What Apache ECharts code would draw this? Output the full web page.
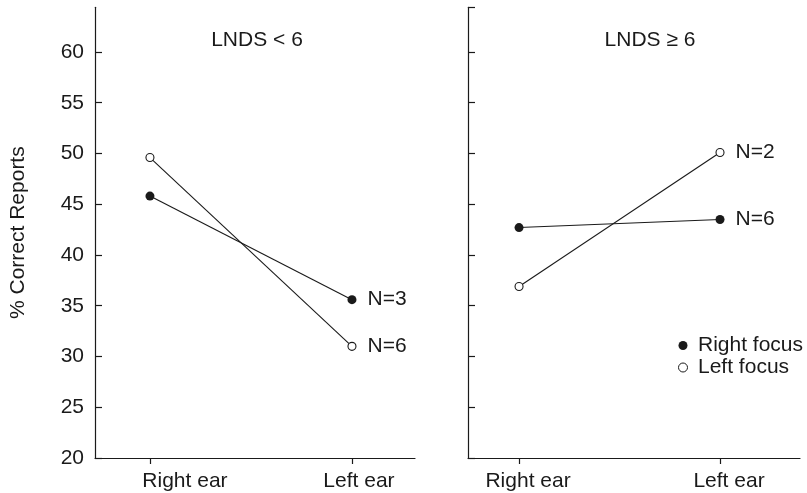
<!DOCTYPE html>
<html><head><meta charset="utf-8">
<script src="https://cdn.jsdelivr.net/npm/echarts@6/dist/echarts.min.js"></script>
<style>html,body{margin:0;padding:0;background:#fff}#c{width:807px;height:493px}</style>
</head><body><div id="c"></div>
<script>
const categories = ['Right ear', 'Left ear'];
const panelTitles = ['LNDS < 6', 'LNDS \u2265 6'];
const yAxisName = '% Correct Reports';
const seriesNames = ['Right focus', 'Left focus'];
// Panel 1: LNDS < 6
const lowRightFocus = [45.8, 35.6];
const lowLeftFocus = [49.6, 31.0];
const lowRightN = 'N=3';
const lowLeftN = 'N=6';
// Panel 2: LNDS >= 6
const highRightFocus = [42.7, 43.5];
const highLeftFocus = [36.9, 50.1];
const highRightN = 'N=6';
const highLeftN = 'N=2';

const FONT = 'Liberation Sans, Arial, sans-serif';
const INK = '#1a1a1a';
const FS = 21;
const pts = arr => arr.map((v, i) => [i, v]);

// label nudges (visual style only): left padding per category label, per panel
const labelPad = [[70, 14], [18, 18]];

function xAxis(gi, min, max) {
  const rich = {};
  categories.forEach((c, i) => { rich['c' + i] = {padding: [0, 0, 0, labelPad[gi][i]], fontSize: FS, fontFamily: FONT, color: INK}; });
  return {
    type: 'value', gridIndex: gi, min: min, max: max,
    axisLine: {show: true, onZero: false, lineStyle: {color: INK, width: 1.2}},
    axisTick: {show: true, length: 6, customValues: [0, 1], lineStyle: {color: INK, width: 1.2}},
    axisLabel: {customValues: [0, 1],
      formatter: v => { const i = Math.round(v); return '{c' + i + '|' + categories[i] + '}'; },
      rich: rich, color: INK, fontFamily: FONT, fontSize: FS, margin: 13},
    splitLine: {show: false}
  };
}
function yAxis(gi, showLabels) {
  return {
    type: 'value', gridIndex: gi, min: 20, max: 64.4, interval: 5,
    name: showLabels ? yAxisName : '', nameLocation: 'middle', nameGap: 66,
    nameTextStyle: {color: INK, fontFamily: FONT, fontSize: FS},
    axisLine: {show: true, onZero: false, lineStyle: {color: INK, width: 1.2}},
    axisTick: {show: true, inside: true, length: 7, lineStyle: {color: INK, width: 1.2}},
    axisLabel: {show: showLabels, color: INK, fontFamily: FONT, fontSize: FS, margin: 11,
      showMaxLabel: false},
    splitLine: {show: false}
  };
}
function lineSeries(gi, name, data, endLabel, filled) {
  return {
    type: 'line', name: name, xAxisIndex: gi, yAxisIndex: gi,
    data: pts(data),
    symbol: 'circle',
    symbolSize: filled ? 9 : 8,
    lineStyle: {color: INK, width: 1.1},
    itemStyle: filled ? {color: INK} : {color: '#fff', borderColor: INK, borderWidth: 1.1},
    label: {show: true, position: 'right', distance: 11, color: INK, fontFamily: FONT, fontSize: FS,
      formatter: p => p.dataIndex === data.length - 1 ? endLabel : ''},
    emphasis: {disabled: true}, animation: false, z: filled ? 3 : 4
  };
}

const chart = echarts.init(document.getElementById('c'));
chart.setOption({
  animation: false,
  grid: [
    {left: 95, top: 7.3, width: 320, height: 450.7},
    {left: 468, top: 7.3, width: 332, height: 450.7}
  ],
  title: [
    {text: panelTitles[0], left: 252, top: 25, textAlign: 'center',
      textStyle: {color: INK, fontFamily: FONT, fontSize: FS, fontWeight: 'normal'}},
    {text: panelTitles[1], left: 645, top: 25, textAlign: 'center',
      textStyle: {color: INK, fontFamily: FONT, fontSize: FS, fontWeight: 'normal'}}
  ],
  legend: {
    orient: 'vertical', left: 673, top: 330, itemWidth: 20, itemHeight: 9, itemGap: 1,
    textStyle: {color: INK, fontFamily: FONT, fontSize: FS},
    data: [
      {name: seriesNames[0], icon: 'circle', itemStyle: {color: INK}},
      {name: seriesNames[1], icon: 'circle', itemStyle: {color: '#fff', borderColor: INK, borderWidth: 1}}
    ]
  },
  xAxis: [xAxis(0, -0.272, 1.312), xAxis(1, -0.254, 1.398)],
  yAxis: [yAxis(0, true), yAxis(1, false)],
  series: [
    lineSeries(0, seriesNames[0], lowRightFocus, lowRightN, true),
    lineSeries(0, seriesNames[1], lowLeftFocus, lowLeftN, false),
    lineSeries(1, seriesNames[0], highRightFocus, highRightN, true),
    lineSeries(1, seriesNames[1], highLeftFocus, highLeftN, false)
  ]
});
</script></body></html>
